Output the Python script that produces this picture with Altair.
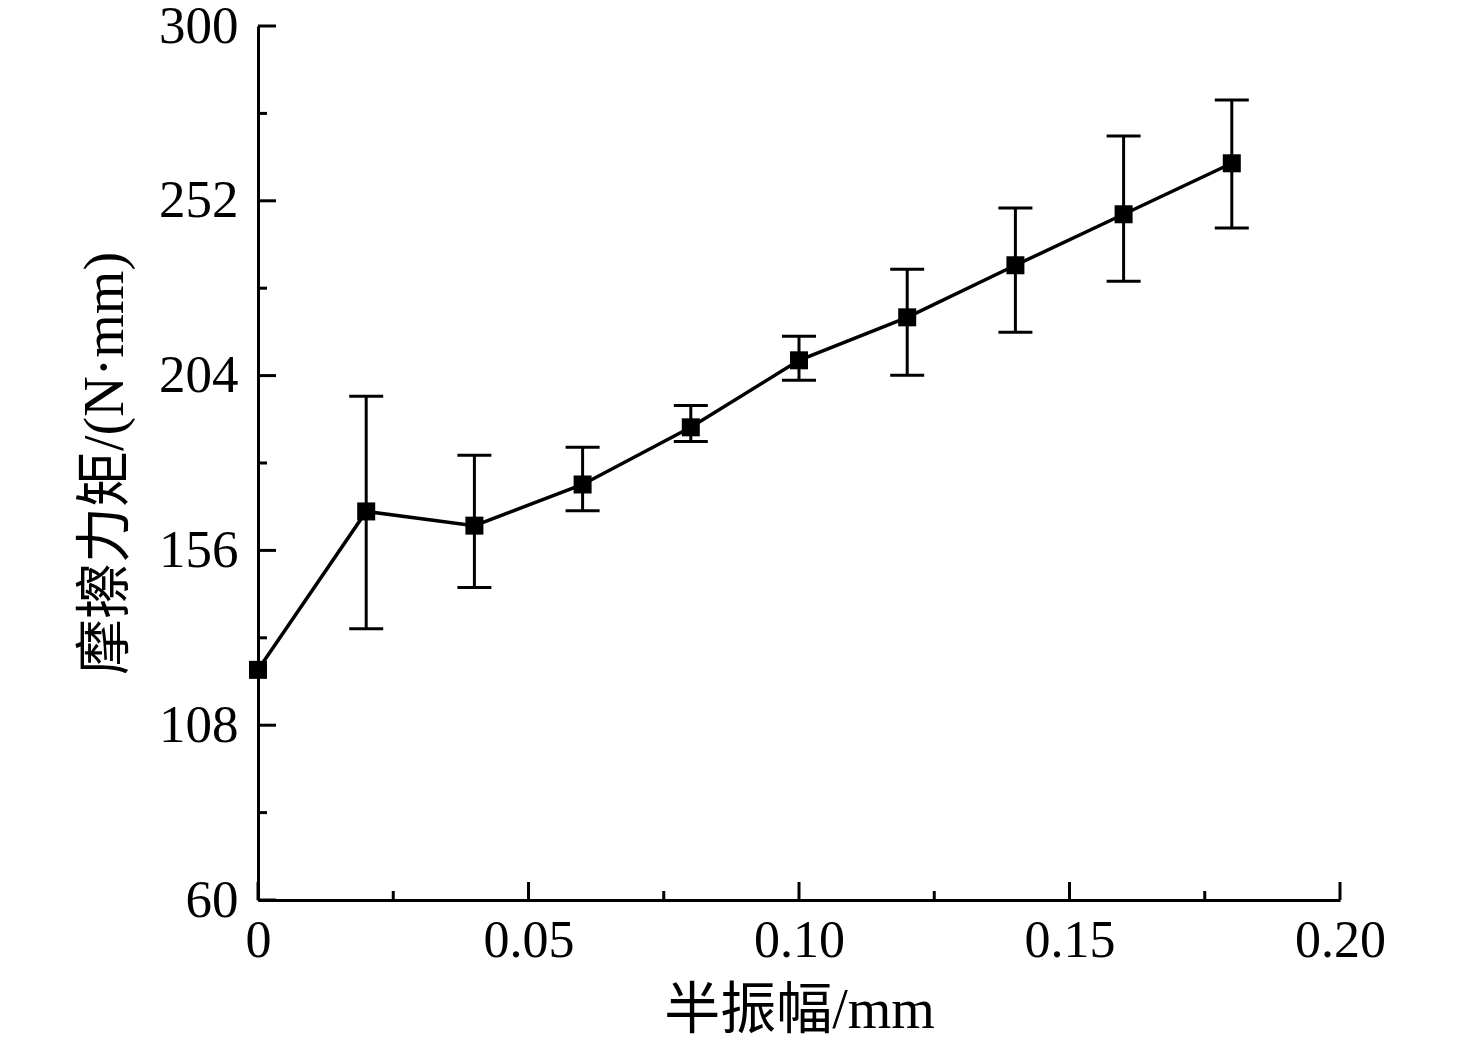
import altair as alt
import pandas as pd

amplitude = [0.0, 0.02, 0.04, 0.06, 0.08, 0.10, 0.12, 0.14, 0.16, 0.18]
torque = [123.2, 166.7, 162.8, 174.1, 189.8, 208.2, 220.0, 234.3, 248.3, 262.3]
err_high = [123.2, 198.3, 182.1, 184.3, 195.8, 214.8, 233.2, 250.0, 269.8, 279.7]
err_low = [123.2, 134.5, 145.8, 166.9, 185.9, 202.7, 204.1, 215.9, 229.9, 244.5]

y_major = [60, 108, 156, 204, 252, 300]
y_minor = [84, 132, 180, 228, 276]
x_major = [0.0, 0.05, 0.10, 0.15, 0.20]
x_minor = [0.025, 0.075, 0.125, 0.175]

W, H = 1082, 874
FONT = "Liberation Serif, Times New Roman, Noto Sans CJK SC"

df = pd.DataFrame({"x": amplitude, "y": torque, "lo": err_low, "hi": err_high})
err_df = df.iloc[1:]

xs = alt.Scale(domain=[0, 0.2], nice=False, zero=False)
ys = alt.Scale(domain=[60, 300], nice=False, zero=False)

x_axis = alt.Axis(
    values=x_major, ticks=False, grid=False, labelFlush=False, labelOverlap=False,
    labelExpr="datum.value == 0 ? '0' : format(datum.value, '.2f')",
    labelFontSize=52, labelFont=FONT, labelColor="black", labelPadding=15,
    domainColor="black", domainWidth=3,
    title="半振幅/mm", titleFontSize=56, titleFont=FONT, titleFontWeight="normal",
    titleColor="black", titlePadding=17,
)
y_axis = alt.Axis(
    values=y_major, ticks=False, grid=False, labelFlush=False, labelOverlap=False,
    labelFontSize=53, labelFont=FONT, labelColor="black", labelPadding=20,
    domainColor="black", domainWidth=3,
    title="摩擦力矩/(N·mm)", titleFontSize=56, titleFont=FONT, titleFontWeight="normal",
    titleColor="black", titlePadding=24,
)

base = alt.Chart(df)

axes_layer = base.mark_point(opacity=0).encode(
    x=alt.X("x:Q", scale=xs, axis=x_axis),
    y=alt.Y("y:Q", scale=ys, axis=y_axis),
)

ytick_major = alt.Chart(pd.DataFrame({"v": y_major})).mark_rule(color="black", strokeWidth=3).encode(
    y=alt.Y("v:Q", scale=ys), x=alt.value(0), x2=alt.value(18))
ytick_minor = alt.Chart(pd.DataFrame({"v": y_minor})).mark_rule(color="black", strokeWidth=3).encode(
    y=alt.Y("v:Q", scale=ys), x=alt.value(0), x2=alt.value(9))
xtick_major = alt.Chart(pd.DataFrame({"v": x_major})).mark_rule(color="black", strokeWidth=3).encode(
    x=alt.X("v:Q", scale=xs), y=alt.value(H), y2=alt.value(H - 18))
xtick_minor = alt.Chart(pd.DataFrame({"v": x_minor})).mark_rule(color="black", strokeWidth=3).encode(
    x=alt.X("v:Q", scale=xs), y=alt.value(H), y2=alt.value(H - 9))

err_v = alt.Chart(err_df).mark_rule(color="black", strokeWidth=3).encode(
    x=alt.X("x:Q", scale=xs), y=alt.Y("lo:Q", scale=ys), y2="hi:Q")
cap_hi = alt.Chart(err_df).mark_rule(color="black", strokeWidth=3, xOffset=-17, x2Offset=17).encode(
    x=alt.X("x:Q", scale=xs), x2="x:Q", y=alt.Y("hi:Q", scale=ys))
cap_lo = alt.Chart(err_df).mark_rule(color="black", strokeWidth=3, xOffset=-17, x2Offset=17).encode(
    x=alt.X("x:Q", scale=xs), x2="x:Q", y=alt.Y("lo:Q", scale=ys))

line = base.mark_line(color="black", strokeWidth=3.5).encode(
    x=alt.X("x:Q", scale=xs), y=alt.Y("y:Q", scale=ys))
pts = base.mark_square(color="black", size=324, opacity=1, filled=True, cornerRadius=2).encode(
    x=alt.X("x:Q", scale=xs), y=alt.Y("y:Q", scale=ys))

chart = alt.layer(
    axes_layer, ytick_major, ytick_minor, xtick_major, xtick_minor,
    err_v, cap_hi, cap_lo, line, pts
).properties(
    width=W, height=H,
    autosize=alt.AutoSizeParams(type="none"),
    padding={"left": 250, "top": 18, "right": 120, "bottom": 145},
    background="white",
).configure_view(stroke=None)

chart.save("out.html", embed_options={"renderer": "svg", "actions": False})
